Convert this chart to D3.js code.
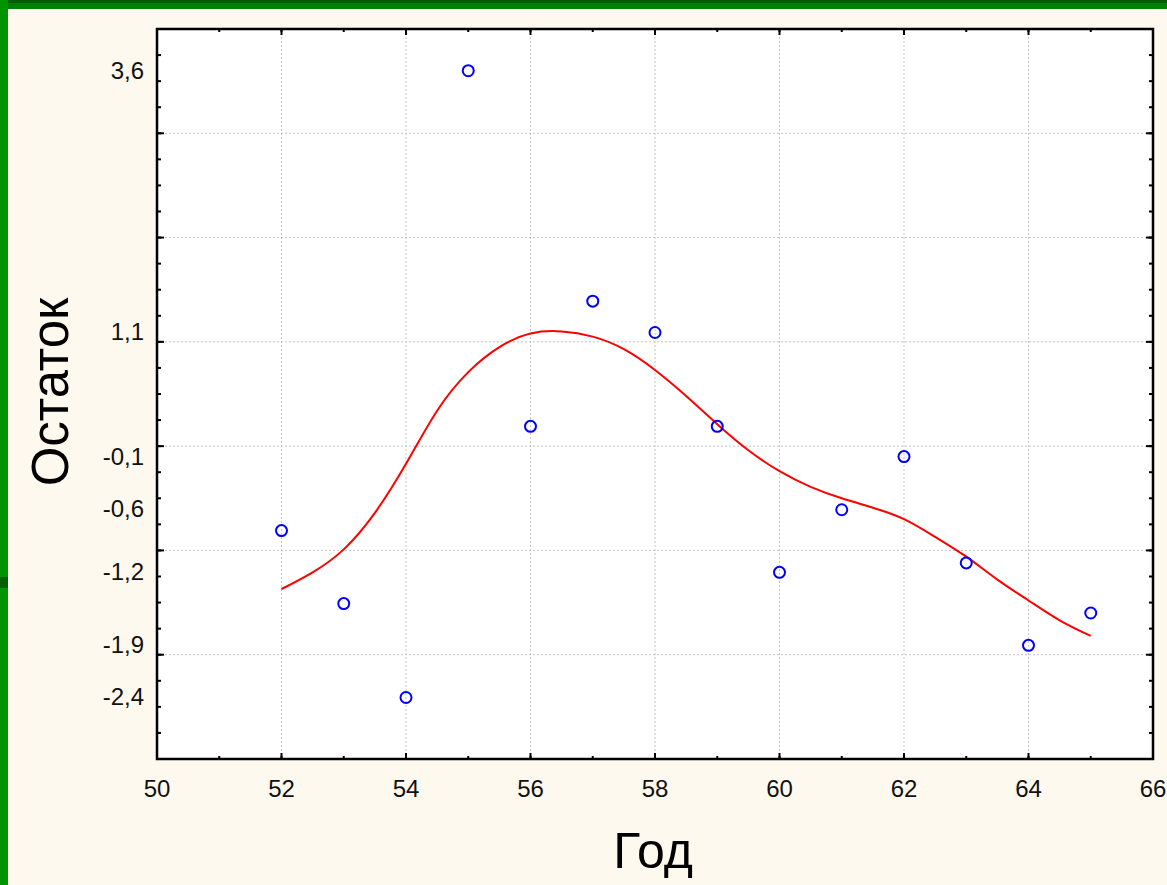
<!DOCTYPE html>
<html>
<head>
<meta charset="utf-8">
<script src="https://cdn.jsdelivr.net/npm/d3@7"></script>
<style>
  html, body { margin: 0; padding: 0; background: #fef9ef; }
  svg { display: block; font-family: "Liberation Sans", Arial, sans-serif; }
</style>
</head>
<body>
<svg id="chart"></svg>
<script>
// residuals by year
const years = [52, 53, 54, 55, 56, 57, 58, 59, 60, 61, 62, 63, 64, 65];
const residuals = [-0.81, -1.51, -2.41, 3.60, 0.19, 1.39, 1.09, 0.19, -1.21, -0.61, -0.10, -1.12, -1.91, -1.60];

// smoothed fit
const fitX = [52, 52.5, 53, 53.5, 54, 54.5, 55, 55.5, 56, 56.5, 57, 57.5, 58, 58.5, 59, 59.5, 60, 60.5, 61, 61.5, 62, 62.5, 63, 63.5, 64, 64.5, 65];
const fitY = [-1.37, -1.21, -0.99, -0.64, -0.17, 0.34, 0.71, 0.95, 1.08, 1.10, 1.05, 0.93, 0.73, 0.48, 0.21, -0.04, -0.24, -0.39, -0.50, -0.59, -0.70, -0.87, -1.06, -1.28, -1.48, -1.67, -1.82];

const xTicks = [50, 52, 54, 56, 58, 60, 62, 64, 66];
const yTickVals = [3.6, 1.1, -0.1, -0.6, -1.2, -1.9, -2.4];
const yTickText = ["3,6", "1,1", "-0,1", "-0,6", "-1,2", "-1,9", "-2,4"];
const yGrid = [-2, -1, 0, 1, 2, 3];

const W = 1167, H = 885;
const margin = {top: 29, right: 14, bottom: 126, left: 157};

const svg = d3.select('#chart').attr('width', W).attr('height', H);

// page background and green edges
svg.append('rect').attr('width', W).attr('height', H).attr('fill', '#fef9ef');
svg.append('rect').attr('x', 0).attr('y', 0).attr('width', W).attr('height', 9).attr('fill', '#008000');
svg.append('rect').attr('x', 0).attr('y', 0).attr('width', W).attr('height', 3).attr('fill', '#005c00');
svg.append('rect').attr('x', 0).attr('y', 0).attr('width', 8).attr('height', H).attr('fill', '#009400');
svg.append('rect').attr('x', 0).attr('y', 577).attr('width', 8).attr('height', 11).attr('fill', '#006000');

const x = d3.scaleLinear().domain([50, 66]).range([margin.left, W - margin.right]);
const y = d3.scaleLinear().domain([-3, 4]).range([H - margin.bottom, margin.top]);

const plot = svg.append('g');
plot.append('rect')
  .attr('x', x(50)).attr('y', y(4))
  .attr('width', x(66) - x(50)).attr('height', y(-3) - y(4))
  .attr('fill', '#ffffff');

// dotted grid
plot.selectAll('.gx').data(xTicks.slice(1, -1)).join('line')
  .attr('x1', d => x(d)).attr('x2', d => x(d))
  .attr('y1', y(4)).attr('y2', y(-3))
  .attr('stroke', '#c4c4c4').attr('stroke-width', 1).attr('stroke-dasharray', '2,2');
plot.selectAll('.gy').data(yGrid).join('line')
  .attr('x1', x(50)).attr('x2', x(66))
  .attr('y1', d => y(d)).attr('y2', d => y(d))
  .attr('stroke', '#c4c4c4').attr('stroke-width', 1).attr('stroke-dasharray', '2,2');

// inward ticks on all four sides
const xMinor = d3.range(51, 66, 1);
const yMinor = d3.range(-3, 4.01, 0.25);
const tick = (sel, data, len, horiz, pos, dir) => {
  sel.selectAll(null).data(data).join('line')
    .attr('x1', d => horiz ? x(d) : pos)
    .attr('x2', d => horiz ? x(d) : pos + dir * len)
    .attr('y1', d => horiz ? pos : y(d))
    .attr('y2', d => horiz ? pos + dir * len : y(d))
    .attr('stroke', '#000').attr('stroke-width', 2);
};
tick(plot, xMinor, 3, true, y(-3), -1);
tick(plot, xMinor, 3, true, y(4), 1);
tick(plot, xTicks, 6, true, y(-3), -1);
tick(plot, xTicks, 6, true, y(4), 1);
tick(plot, yMinor, 4, false, x(50), 1);
tick(plot, yMinor, 4, false, x(66), -1);
tick(plot, [-3, -2, -1, 0, 1, 2, 3, 4], 7, false, x(50), 1);
tick(plot, [-3, -2, -1, 0, 1, 2, 3, 4], 7, false, x(66), -1);

// frame
plot.append('rect')
  .attr('x', x(50)).attr('y', y(4))
  .attr('width', x(66) - x(50)).attr('height', y(-3) - y(4))
  .attr('fill', 'none').attr('stroke', '#000').attr('stroke-width', 2.5);

// tick labels
svg.append('g').selectAll('text').data(xTicks).join('text')
  .attr('x', d => x(d)).attr('y', y(-3) + 38)
  .attr('text-anchor', 'middle')
  .attr('font-size', 24).attr('fill', '#111')
  .text(d => d);
svg.append('g').selectAll('text').data(yTickVals).join('text')
  .attr('x', 144).attr('y', d => y(d))
  .attr('dy', '0.36em')
  .attr('text-anchor', 'end')
  .attr('font-size', 24).attr('fill', '#111')
  .text((d, i) => yTickText[i]);

// smoothed curve
const line = d3.line()
  .x(d => x(d[0])).y(d => y(d[1]))
  .curve(d3.curveNatural);
plot.append('path')
  .datum(fitX.map((d, i) => [d, fitY[i]]))
  .attr('d', line)
  .attr('fill', 'none').attr('stroke', '#ff0000').attr('stroke-width', 2);

// points
plot.selectAll('circle').data(years).join('circle')
  .attr('cx', d => x(d))
  .attr('cy', (d, i) => y(residuals[i]))
  .attr('r', 5.5)
  .attr('fill', 'none').attr('stroke', '#0000ff').attr('stroke-width', 2);

// axis titles
svg.append('text')
  .attr('x', 653).attr('y', 868)
  .attr('text-anchor', 'middle')
  .attr('font-size', 50).attr('fill', '#000')
  .text('Год');
svg.append('text')
  .attr('transform', 'translate(68,392) rotate(-90)')
  .attr('text-anchor', 'middle')
  .attr('font-size', 51).attr('fill', '#000')
  .text('Остаток');
</script>
</body>
</html>
